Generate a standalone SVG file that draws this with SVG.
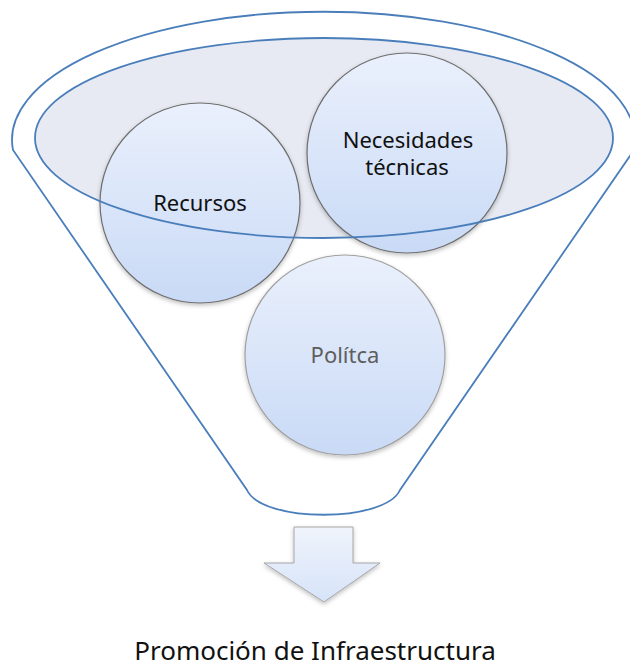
<svg xmlns="http://www.w3.org/2000/svg" width="630" height="668" viewBox="0 0 630 668">
<style>
.funnel{fill:none;stroke:#4A7EBB;stroke-width:1.8}
.circle{fill:url(#cg);stroke:#6E6E6E;stroke-width:1.2;filter:url(#sh)}
.lbl{font-family:"Noto Sans","Open Sans",sans-serif;font-size:22px;fill:#111;text-anchor:middle}
</style>
<defs>
<linearGradient id="cg" x1="0" y1="0" x2="0" y2="1">
<stop offset="0" stop-color="#EAF0FC"/>
<stop offset="1" stop-color="#C9DAF6"/>
</linearGradient>
<linearGradient id="ag" x1="0" y1="0" x2="0" y2="1">
<stop offset="0" stop-color="#F0F4FC"/>
<stop offset="1" stop-color="#D6E3F8"/>
</linearGradient>
<filter id="sh" x="-20%" y="-20%" width="140%" height="140%">
<feDropShadow dx="0" dy="2" stdDeviation="2" flood-color="#000" flood-opacity="0.25"/>
</filter>
</defs>
<g id="funnel">
<path class="funnel" d="M13,150 A311.5,128 0 1 1 634,150 L400,490 C385,523 262,523 247,490 Z"/>
<ellipse id="funnel-top" cx="324" cy="138" rx="289" ry="100" fill="#E7EAF2" stroke="none"/>
</g>
<g id="node-recursos">
<circle class="circle" cx="200" cy="203" r="100"/>
<text class="lbl" x="200" y="211">Recursos</text>
</g>
<g id="node-necesidades">
<circle class="circle" cx="407" cy="153" r="100"/>
<text class="lbl" x="408" y="148">Necesidades</text>
<text class="lbl" x="407" y="175">técnicas</text>
</g>
<g id="funnel-rim">
<ellipse cx="324" cy="138" rx="289" ry="100" fill="none" stroke="#4A7EBB" stroke-width="1.8"/>
</g>
<g id="node-politca">
<circle cx="345" cy="355" r="100" fill="url(#cg)" stroke="#A0A0A0" stroke-width="1.2" filter="url(#sh)"/>
<text class="lbl" x="345" y="363" style="fill:#5E5E5E">Polítca</text>
</g>
<g id="connectors">
<path d="M294,527 L353,527 L353,563 L380,563 L324,602 L264,563 L294,563 Z" fill="url(#ag)" stroke="#A6A6A6" stroke-width="1" filter="url(#sh)"/>
</g>
<g id="result">
<text x="315" y="660" style="font-family:'Noto Sans','Open Sans',sans-serif;font-size:26px;fill:#111;text-anchor:middle">Promoción de Infraestructura</text>
</g>
</svg>
